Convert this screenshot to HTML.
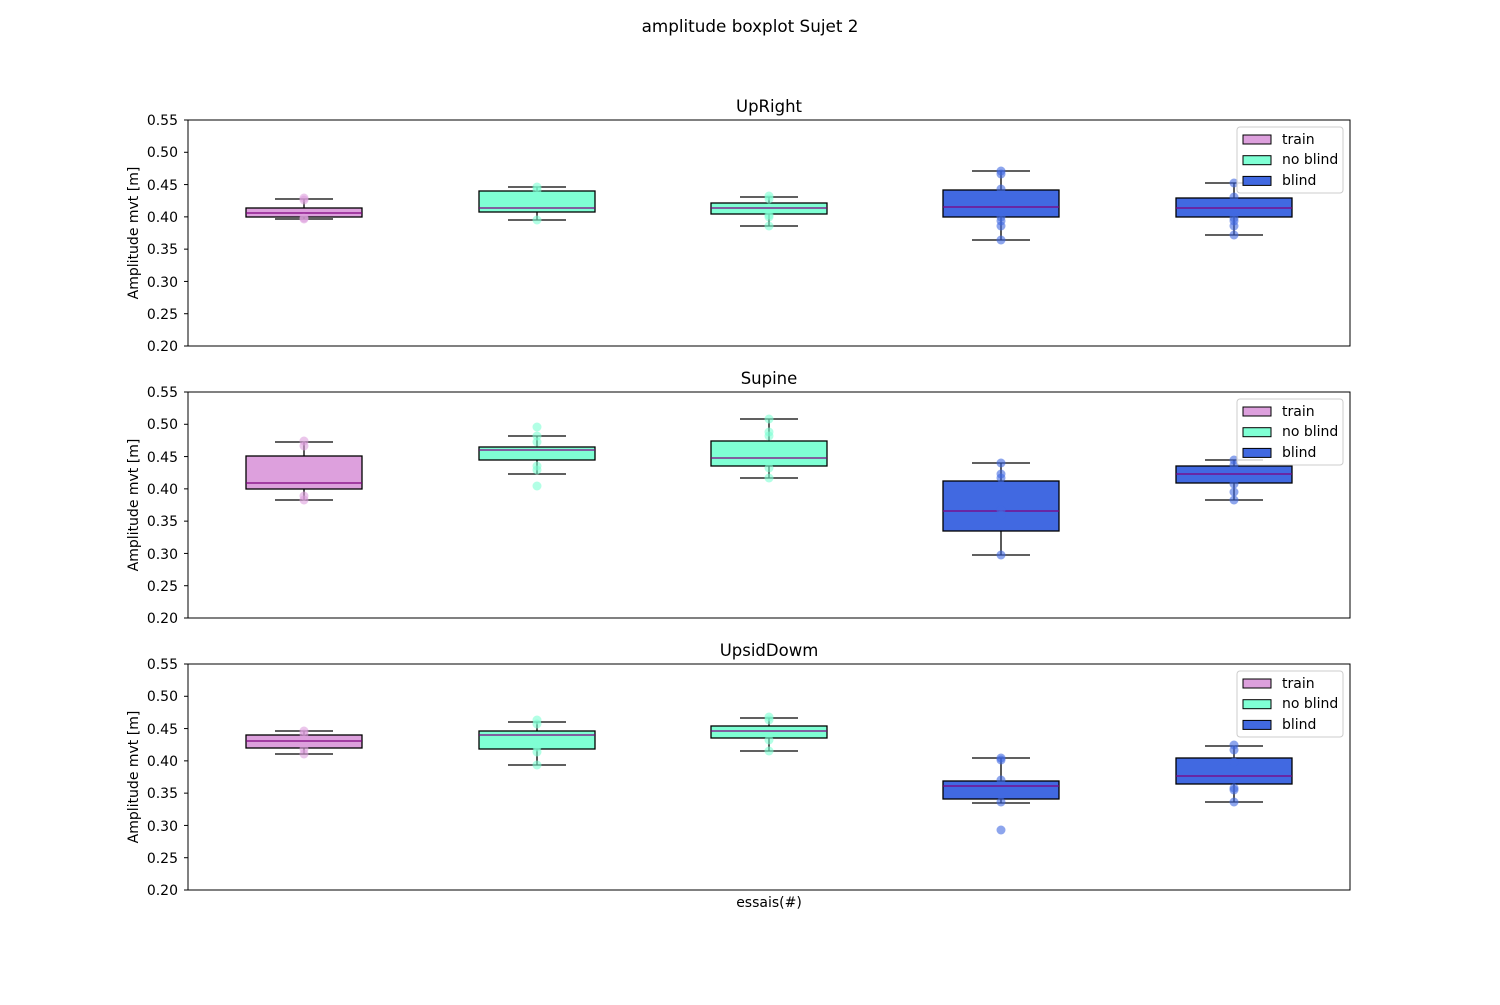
<!DOCTYPE html>
<html><head><meta charset="utf-8"><style>
body{margin:0;background:#fff;}
svg text{font-family:"DejaVu Sans","Liberation Sans",sans-serif;fill:#000;}
</style></head><body>
<svg id="s" width="1500" height="1000" xmlns="http://www.w3.org/2000/svg">
<rect width="1500" height="1000" fill="#fff"/>
<text x="750" y="32" font-size="16.8" text-anchor="middle">amplitude boxplot Sujet 2</text>
<text x="769" y="112" font-size="16.5" text-anchor="middle">UpRight</text>
<text x="769" y="384" font-size="16.5" text-anchor="middle">Supine</text>
<text x="769" y="656" font-size="16.5" text-anchor="middle">UpsidDowm</text>
<text x="769" y="907" font-size="14" text-anchor="middle">essais(#)</text>
<g font-size="14">
<text transform="translate(138,233) rotate(-90)" text-anchor="middle">Amplitude mvt [m]</text>
<text transform="translate(138,505) rotate(-90)" text-anchor="middle">Amplitude mvt [m]</text>
<text transform="translate(138,777) rotate(-90)" text-anchor="middle">Amplitude mvt [m]</text>
</g>
<g font-size="14" text-anchor="end">
<text x="178" y="125">0.55</text><text x="178" y="157">0.50</text><text x="178" y="190">0.45</text><text x="178" y="222">0.40</text><text x="178" y="254">0.35</text><text x="178" y="287">0.30</text><text x="178" y="319">0.25</text><text x="178" y="351">0.20</text>
<text x="178" y="397">0.55</text><text x="178" y="429">0.50</text><text x="178" y="462">0.45</text><text x="178" y="494">0.40</text><text x="178" y="526">0.35</text><text x="178" y="559">0.30</text><text x="178" y="591">0.25</text><text x="178" y="623">0.20</text>
<text x="178" y="669">0.55</text><text x="178" y="701">0.50</text><text x="178" y="734">0.45</text><text x="178" y="766">0.40</text><text x="178" y="798">0.35</text><text x="178" y="831">0.30</text><text x="178" y="863">0.25</text><text x="178" y="895">0.20</text>
</g>
<g id="g"></g>
<g font-size="14">
<text x="1282" y="144">train</text><text x="1282" y="164">no blind</text><text x="1282" y="185">blind</text>
<text x="1282" y="416">train</text><text x="1282" y="436">no blind</text><text x="1282" y="457">blind</text>
<text x="1282" y="688">train</text><text x="1282" y="708">no blind</text><text x="1282" y="729">blind</text>
</g>
</svg>
<script>
var g=document.getElementById('g'),h='';
var C=['#dda0dd','#7fffd4','#7fffd4','#4169e1','#4169e1'];
var X=[304,537,769,1001,1234];
var D=[
[[208,217,213,199,219,[198,200,218,219]],[191,212,208,187,220,[187,190,220]],[203,214,208,197,226,[196,199,215,217,226]],[190,217,207,171,240,[171,174,189,217,221,226,240]],[198,217,208,183,235,[183,197,218,221,226,235]]],
[[456,489,483,442,500,[441,446,496,500]],[447,460,450,436,474,[427,436,442,466,470,486]],[441,466,458,419,478,[419,432,436,468,478]],[481,531,511,463,555,[463,474,478,510,515,555]],[466,483,474,460,500,[460,465,484,492,500]]],
[[735,748,741,731,754,[731,734,749,754]],[731,749,735,722,765,[720,724,747,752,765]],[726,738,731,718,751,[717,720,740,751]],[781,799,786,758,803,[758,760,780,802,830]],[758,784,776,746,802,[745,750,762,788,790,802]]]];
var T=[120,392,664];
for(var p=0;p<3;p++){
 var t=T[p];
 for(var k=0;k<8;k++){var y=t+k*226/7;h+='<line x1="184" x2="188" y1="'+y+'" y2="'+y+'" stroke="#000"/>';}
 for(var i=0;i<5;i++){
  var d=D[p][i],x=X[i];
  h+='<line x1="'+x+'" x2="'+x+'" y1="'+d[3]+'" y2="'+d[4]+'" stroke="#000" stroke-width="1.3"/>';
  h+='<line x1="'+(x-29)+'" x2="'+(x+29)+'" y1="'+d[3]+'" y2="'+d[3]+'" stroke="#000" stroke-width="1.3"/>';
  h+='<line x1="'+(x-29)+'" x2="'+(x+29)+'" y1="'+d[4]+'" y2="'+d[4]+'" stroke="#000" stroke-width="1.3"/>';
  h+='<rect x="'+(x-58)+'" y="'+d[0]+'" width="116" height="'+(d[1]-d[0])+'" fill="'+C[i]+'" stroke="#000" stroke-width="1.3"/>';
  h+='<line x1="'+(x-58)+'" x2="'+(x+58)+'" y1="'+d[2]+'" y2="'+d[2]+'" stroke="#800080" stroke-width="1.2"/>';
  h+='<line x1="'+x+'" x2="'+x+'" y1="'+d[0]+'" y2="'+d[1]+'" stroke="#000" stroke-width="1.3" opacity="0.0"/>';
  d[5].forEach(function(v){h+='<circle cx="'+x+'" cy="'+v+'" r="4.5" fill="'+C[i]+'" opacity="0.6"/>';});
 }
 h+='<rect x="188" y="'+t+'" width="1162" height="226" fill="none" stroke="#000" stroke-width="1"/>';
 var ly=t+7;
 h+='<rect x="1237" y="'+ly+'" width="106" height="66" rx="3" fill="#fff" fill-opacity="0.8" stroke="#ccc"/>';
 var cs=['#dda0dd','#7fffd4','#4169e1'];
 for(var j=0;j<3;j++){h+='<rect x="1243" y="'+(ly+8+j*20.7)+'" width="28" height="9" fill="'+cs[j]+'" stroke="#000"/>';}
}
g.innerHTML=h;
</script>
</body></html>
